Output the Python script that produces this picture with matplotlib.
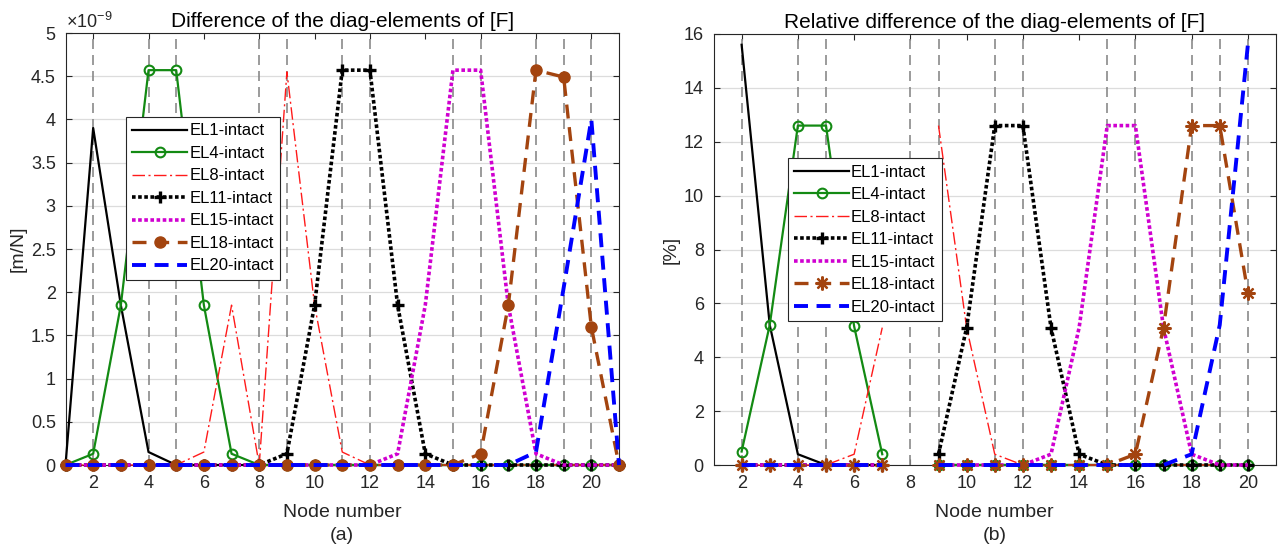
import matplotlib.pyplot as plt
import numpy as np
from matplotlib.ticker import FuncFormatter

plt.rcParams["font.family"] = ["Liberation Sans", "DejaVu Sans"]
plt.rcParams["mathtext.fontset"] = "custom"
plt.rcParams["mathtext.rm"] = "Liberation Sans"
plt.rcParams["mathtext.it"] = "Liberation Sans:italic"

nan = np.nan

# ── data ──────────────────────────────────────────────────────────────────────
nodes = np.arange(1, 22)
marked_nodes = [2, 4, 5, 8, 9, 11, 12, 15, 16, 18, 19, 20]
series_labels = ["EL1-intact", "EL4-intact", "EL8-intact", "EL11-intact",
                 "EL15-intact", "EL18-intact", "EL20-intact"]

# (a) absolute difference, in units of 1e-9 m/N, nodes 1..21
el1_abs = [0, 3.9, 1.85, 0.15, 0, 0, 0, 0, 0, 0, 0, 0, 0, 0, 0, 0, 0, 0, 0, 0, 0]
el4_abs = [0, 0.13, 1.85, 4.57, 4.57, 1.85, 0.13, 0, 0, 0, 0, 0, 0, 0, 0, 0, 0, 0, 0, 0, 0]
el8_abs = [0, 0, 0, 0, 0, 0.15, 1.85, 0, 4.55, 1.85, 0.15, 0, 0, 0, 0, 0, 0, 0, 0, 0, 0]
el11_abs = [0, 0, 0, 0, 0, 0, 0, 0, 0.13, 1.85, 4.57, 4.57, 1.85, 0.13, 0, 0, 0, 0, 0, 0, 0]
el15_abs = [0, 0, 0, 0, 0, 0, 0, 0, 0, 0, 0, 0, 0.13, 1.85, 4.57, 4.57, 1.85, 0.13, 0, 0, 0]
el18_abs = [0, 0, 0, 0, 0, 0, 0, 0, 0, 0, 0, 0, 0, 0, 0, 0.13, 1.85, 4.57, 4.49, 1.6, 0]
el20_abs = [0, 0, 0, 0, 0, 0, 0, 0, 0, 0, 0, 0, 0, 0, 0, 0, 0, 0.15, 2.05, 4.0, 0]

# (b) relative difference in %, nodes 1..21 (no value at nodes 1, 8, 21)
el1_rel = [nan, 15.6, 5.2, 0.4, 0, 0, 0, nan, 0, 0, 0, 0, 0, 0, 0, 0, 0, 0, 0, 0, nan]
el4_rel = [nan, 0.5, 5.2, 12.6, 12.6, 5.15, 0.4, nan, 0, 0, 0, 0, 0, 0, 0, 0, 0, 0, 0, 0, nan]
el8_rel = [nan, 0, 0, 0, 0, 0.4, 5.1, nan, 12.6, 5.1, 0.4, 0, 0, 0, 0, 0, 0, 0, 0, 0, nan]
el11_rel = [nan, 0, 0, 0, 0, 0, 0, nan, 0.4, 5.1, 12.6, 12.6, 5.1, 0.4, 0, 0, 0, 0, 0, 0, nan]
el15_rel = [nan, 0, 0, 0, 0, 0, 0, nan, 0, 0, 0, 0, 0.4, 5.1, 12.6, 12.6, 5.1, 0.4, 0, 0, nan]
el18_rel = [nan, 0, 0, 0, 0, 0, 0, nan, 0, 0, 0, 0, 0, 0, 0, 0.4, 5.1, 12.6, 12.6, 6.4, nan]
el20_rel = [nan, 0, 0, 0, 0, 0, 0, nan, 0, 0, 0, 0, 0, 0, 0, 0, 0, 0.4, 5.2, 15.6, nan]

# ── styles ────────────────────────────────────────────────────────────────────
GREEN = "#138a13"
BROWN = "#a3440f"
styles = [
    dict(color="black", lw=1.6, ls="-"),
    dict(color=GREEN, lw=1.6, ls="-", marker="o", ms=7, mfc="none", mew=1.5),
    dict(color="#ff1a1a", lw=1.0, dashes=[9, 2.5, 1.5, 2.5]),
    dict(color="black", lw=2.6, dashes=[1, 0.7], marker="+", ms=9, mew=2.4),
    dict(color="#d000d0", lw=2.6, dashes=[1, 0.7]),
    dict(color=BROWN, lw=2.4, dashes=[4.2, 2.6], marker="o", ms=8, mfc=BROWN, mec=BROWN),
    dict(color="#0000ff", lw=2.8, dashes=[3.6, 2.2]),
]

abs_series = [el1_abs, el4_abs, el8_abs, el11_abs, el15_abs, el18_abs, el20_abs]
rel_series = [el1_rel, el4_rel, el8_rel, el11_rel, el15_rel, el18_rel, el20_rel]

TXT = "#262626"

fig = plt.figure(figsize=(12.79, 5.51), dpi=100)
ax1 = fig.add_axes([65.5 / 1279, 86 / 551, 553.5 / 1279, 432 / 551])
ax2 = fig.add_axes([713.5 / 1279, 86 / 551, 562.5 / 1279, 431 / 551])


def style_axes(ax, title, ylabel, sub):
    ax.set_xlim(1, 21)
    ax.set_xticks(np.arange(2, 21, 2))
    ax.yaxis.grid(True, color="#dcdcdc", linewidth=0.9, zorder=0)
    ax.set_axisbelow(True)
    ax.tick_params(direction="in", top=True, right=True, length=4.5, width=0.8,
                   colors=TXT, labelsize=13, pad=7)
    for sp in ax.spines.values():
        sp.set_color(TXT)
        sp.set_linewidth(0.8)
    ax.set_title(title, fontsize=15, pad=4, color="black")
    ax.set_ylabel(ylabel, fontsize=14, color=TXT, labelpad=3)
    ax.set_xlabel("Node number\n" + sub, fontsize=14, color=TXT, labelpad=9,
                  linespacing=1.45)


for ax in (ax1, ax2):
    for xn in marked_nodes:
        ax.axvline(xn, color="#8a8a8a", lw=1.2, dashes=[6, 3.6], zorder=1)

for vals, st, lab in zip(abs_series, styles, series_labels):
    ax1.plot(nodes, vals, label=lab, zorder=3, clip_on=False, **st)

rel_styles = [dict(s) for s in styles]
rel_styles[5].update(marker=(8, 2, 0), ms=10, mew=1.6)
for vals, st, lab in zip(rel_series, rel_styles, series_labels):
    ax2.plot(nodes, vals, label=lab, zorder=3, clip_on=False, **st)

style_axes(ax1, "Difference of the diag-elements of [F]", "[m/N]", "(a)")
ax1.set_ylim(0, 5)
ax1.set_yticks(np.arange(0, 5.01, 0.5))
ax1.yaxis.set_major_formatter(FuncFormatter(lambda v, p: f"{v:g}"))
ax1.text(0.0, 1.003, r"$\times10^{-9}$", transform=ax1.transAxes, ha="left",
         va="bottom", fontsize=13, color=TXT)

style_axes(ax2, "Relative difference of the diag-elements of [F]", "[%]", "(b)")
ax2.set_ylim(0, 16)
ax2.set_yticks(np.arange(0, 17, 2))

for ax, anchor in ((ax1, (0.109, 0.806)), (ax2, (0.132, 0.712))):
    leg = ax.legend(loc="upper left", bbox_to_anchor=anchor, borderaxespad=0,
                    fontsize=12, handlelength=3.3, handletextpad=0.1,
                    labelspacing=0.45, borderpad=0.4, fancybox=False,
                    framealpha=1, edgecolor=TXT)
    leg.get_frame().set_linewidth(0.8)
    leg.set_zorder(5)

fig.savefig("out.png", dpi=100)
